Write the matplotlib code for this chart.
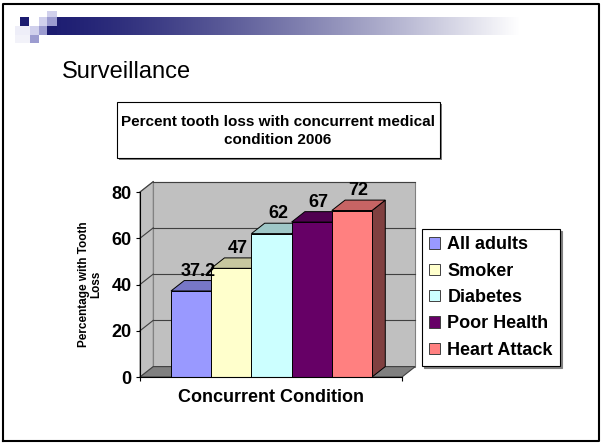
import matplotlib
matplotlib.use('Agg')
import matplotlib.pyplot as plt
from matplotlib.patches import Rectangle, Polygon
import numpy as np

plt.rcParams['font.family'] = ['Liberation Sans', 'DejaVu Sans']

# data
categories = ['All adults', 'Smoker', 'Diabetes', 'Poor Health', 'Heart Attack']
values = [37.2, 47, 62, 67, 72]
value_labels = ['37.2', '47', '62', '67', '72']
bar_colors = ['#9999FF', '#FFFFCC', '#CCFFFF', '#660066', '#FF8080']
yticks = [0, 20, 40, 60, 80]

W, H = 602, 444
fig = plt.figure(figsize=(W / 100, H / 100), dpi=100)


def fx(px):
    return px / W


def fy(py):
    return 1 - py / H


def shade(c, f):
    return tuple(np.array(matplotlib.colors.to_rgb(c)) * f)


# slide decoration (pixel coordinates)
deco = fig.add_axes([0, 0, 1, 1], zorder=-1)
navy = np.array([0.12, 0.12, 0.45])
t = np.linspace(0, 1, 256) ** 1.3
grad = navy[None, :] * (1 - t[:, None]) + t[:, None]
deco.imshow(grad[None, :, :], extent=(57, 520, 35, 17), aspect='auto')
squares = [(20, 17, 9, 9, '#1c1c70'), (39, 17, 8, 9, '#d0d0ec'), (47, 17, 10, 9, '#9c9cd0'),
           (47, 11, 10, 6, '#d0d0ec'), (15, 26, 15, 9, '#eeeef8'), (30, 26, 9, 9, '#d0d0ec'),
           (39, 26, 8, 9, '#9c9cd0'), (47, 26, 10, 9, '#1c1c70'), (15, 35, 15, 8, '#f2f2f9'),
           (30, 35, 9, 8, '#9c9cd0')]
for x, y, w, h, c in squares:
    deco.add_patch(Rectangle((x, y), w, h, color=c, lw=0))
deco.plot([3, 3, 599, 599, 3], [441, 4, 4, 441, 441], color='black', lw=1.5)
# chart title box with shadow
deco.add_patch(Rectangle((119, 104), 323, 56, color='#808080', lw=0))
deco.add_patch(Rectangle((117, 102), 323, 56, fc='white', ec='black', lw=0.8))
deco.set_xlim(0, W)
deco.set_ylim(H, 0)
deco.axis('off')

fig.text(fx(62), fy(72), 'Surveillance', fontsize=17, va='center', ha='left')
fig.text(fx(278), fy(131), 'Percent tooth loss with concurrent medical\ncondition 2006',
         ha='center', va='center', fontsize=11, fontweight='bold', linespacing=1.35)

# chart
ax = fig.add_axes([fx(140), fy(377), (402 - 140) / W, (377 - 192) / H])
x_lo, x_hi = -1.271, 5.246
ax.set_xlim(x_lo, x_hi)
ax.set_ylim(0, 80)
ax.patch.set_visible(False)
DX, DY = 0.33, 4.5

wall = '#C0C0C0'
edge = '#808080'
ax.add_patch(Polygon([(x_lo + DX, DY), (x_hi + DX, DY), (x_hi + DX, 80 + DY), (x_lo + DX, 80 + DY)],
                     closed=True, fc=wall, ec=edge, lw=0.8, clip_on=False, zorder=0.5))
ax.add_patch(Polygon([(x_lo, 0), (x_lo + DX, DY), (x_lo + DX, 80 + DY), (x_lo, 80)],
                     closed=True, fc=wall, ec=edge, lw=0.8, clip_on=False, zorder=0.5))
ax.add_patch(Polygon([(x_lo, 0), (x_hi, 0), (x_hi + DX, DY), (x_lo + DX, DY)],
                     closed=True, fc='#808080', ec='#404040', lw=0.8, clip_on=False, zorder=0.6))
for yv in yticks[1:]:
    ax.plot([x_lo + DX, x_hi + DX], [yv + DY, yv + DY], color='#404040', lw=0.8,
            clip_on=False, zorder=0.7)
    ax.plot([x_lo, x_lo + DX], [yv, yv + DY], color='#404040', lw=0.8,
            clip_on=False, zorder=0.7)

handles = []
for i, (v, c) in enumerate(zip(values, bar_colors)):
    z = 1 + i * 0.1
    ax.add_patch(Polygon([(i + 0.5, 0), (i + 0.5 + DX, DY), (i + 0.5 + DX, v + DY), (i + 0.5, v)],
                         closed=True, fc=shade(c, 0.5), ec='black', lw=0.7, clip_on=False, zorder=z))
    ax.add_patch(Polygon([(i - 0.5, v), (i + 0.5, v), (i + 0.5 + DX, v + DY), (i - 0.5 + DX, v + DY)],
                         closed=True, fc=shade(c, 0.78), ec='black', lw=0.7, clip_on=False, zorder=z + 0.01))
    front = Rectangle((i - 0.5, 0), 1, v, fc=c, ec='black', lw=0.7, clip_on=False, zorder=z + 0.02)
    ax.add_patch(front)
    handles.append(Rectangle((0, 0), 1, 1, fc=c, ec='#404040', lw=0.7))
    ax.annotate(value_labels[i], (i + DX / 2, v + DY), xytext=(0, 3.5), textcoords='offset points',
                ha='center', va='baseline', fontsize=13, fontweight='bold', zorder=5,
                annotation_clip=False)

for s in ['top', 'right']:
    ax.spines[s].set_visible(False)
ax.spines['left'].set_linewidth(0.8)
ax.spines['bottom'].set_linewidth(0.8)
ax.spines['left'].set_zorder(3)
ax.spines['bottom'].set_zorder(3)
ax.set_yticks(yticks)
ax.set_xticks([x_lo, x_hi])
ax.set_xticklabels(['', ''])
ax.tick_params(axis='both', direction='out', length=3, width=0.8, pad=3)
ax.tick_params(axis='y', labelsize=13)
for lab in ax.get_yticklabels():
    lab.set_fontweight('bold')

ax.set_xlabel('Concurrent Condition', fontsize=13, fontweight='bold', va='center')
ax.xaxis.set_label_coords(0.5, -0.113)
ax.set_ylabel('Percentage with Tooth\nLoss', fontsize=8.5, fontweight='bold', va='center',
              linespacing=1.05)
ax.yaxis.set_label_coords(-0.191, 0.5)

leg = fig.legend(handles, categories, loc='upper left', bbox_to_anchor=(fx(422), fy(229)),
                 borderaxespad=0, fancybox=False, edgecolor='black', framealpha=1,
                 prop={'weight': 'bold', 'size': 13}, handlelength=0.6, handleheight=0.6,
                 handletextpad=0.4, labelspacing=0.52, borderpad=0.4,
                 shadow={'ox': 1.5, 'oy': -1.5, 'color': '#808080', 'alpha': 1})
leg.get_frame().set_linewidth(0.8)

fig.savefig('out.png', dpi=100)
